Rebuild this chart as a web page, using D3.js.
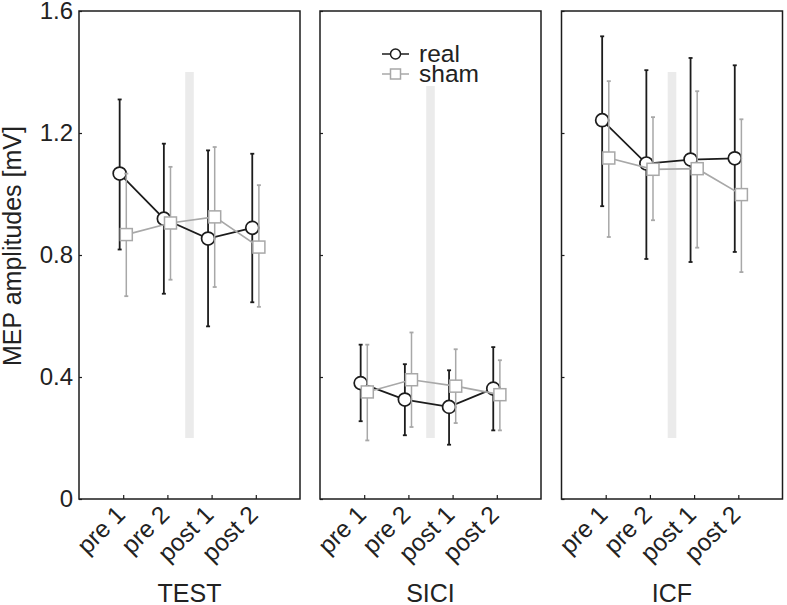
<!DOCTYPE html>
<html>
<head>
<meta charset="utf-8">
<script src="https://cdn.jsdelivr.net/npm/d3@7"></script>
<style>
  body { margin: 0; background: #fff; }
  text { font-family: "Liberation Sans", Arial, sans-serif; fill: #222; }
</style>
</head>
<body>
<svg id="chart" width="787" height="605"></svg>
<script>
// MEP amplitudes, real vs sham, three conditions

var conditions = ["TEST", "SICI", "ICF"];
var timepoints = ["pre 1", "pre 2", "post 1", "post 2"];

var realMean  = [[1.067, 0.919, 0.854, 0.889], [0.380, 0.326, 0.302, 0.362], [1.242, 1.100, 1.113, 1.117]];
var realUpper = [[1.310, 1.165, 1.143, 1.132], [0.506, 0.442, 0.422, 0.498], [1.517, 1.406, 1.446, 1.422]];
var realLower = [[0.818, 0.673, 0.566, 0.645], [0.255, 0.209, 0.178, 0.225], [0.960, 0.787, 0.777, 0.810]];

var shamMean  = [[0.867, 0.905, 0.925, 0.826], [0.351, 0.391, 0.370, 0.342], [1.118, 1.081, 1.083, 0.998]];
var shamUpper = [[1.067, 1.089, 1.154, 1.029], [0.506, 0.546, 0.491, 0.455], [1.370, 1.252, 1.337, 1.245]];
var shamLower = [[0.665, 0.719, 0.695, 0.630], [0.192, 0.236, 0.249, 0.225], [0.859, 0.914, 0.824, 0.744]];

var yTicks = [0, 0.4, 0.8, 1.2, 1.6];
var yTickLabels = ["0", "0.4", "0.8", "1.2", "1.6"];

// stimulation period drawn as a light band between pre 2 and post 1
var bandPos = 2.5;
var bandRange = [0.2, 1.4];

var black = "#1c1c1c";
var grey = "#a8a8a8";

var svg = d3.select("#chart");

var panelLeft = [79, 320, 561.5];
var panelW = 221;
var plotTop = 11, plotBottom = 499;

var y = d3.scaleLinear().domain([0, 1.6]).range([plotBottom, plotTop]);

function drawSeries(g, x, mean, upper, lower, offset, color, shape) {
  var pts = mean.map(function (m, i) {
    return { x: x(i + 1 + offset), m: m, hi: upper[i], lo: lower[i] };
  });

  // error bars
  var eb = g.append("g");
  pts.forEach(function (p) {
    eb.append("line")
      .attr("x1", p.x).attr("x2", p.x)
      .attr("y1", y(p.hi)).attr("y2", y(p.lo))
      .attr("stroke", color).attr("stroke-width", color == black ? 1.8 : 1.5);
    [p.hi, p.lo].forEach(function (v) {
      eb.append("line")
        .attr("x1", p.x - 2).attr("x2", p.x + 2)
        .attr("y1", y(v)).attr("y2", y(v))
        .attr("stroke", color).attr("stroke-width", 1.8);
    });
  });

  var line = d3.line().x(function (d) { return d.x; }).y(function (d) { return y(d.m); });
  g.append("path")
    .datum(pts)
    .attr("d", line)
    .attr("fill", "none")
    .attr("stroke", color)
    .attr("stroke-width", 1.7);

  if (shape == "circle") {
    g.selectAll(null).data(pts).enter().append("circle")
      .attr("cx", function (d) { return d.x; })
      .attr("cy", function (d) { return y(d.m); })
      .attr("r", 6.5)
      .attr("fill", "#fff")
      .attr("stroke", color)
      .attr("stroke-width", 1.7);
  } else {
    g.selectAll(null).data(pts).enter().append("rect")
      .attr("x", function (d) { return d.x - 6; })
      .attr("y", function (d) { return y(d.m) - 6; })
      .attr("width", 12).attr("height", 12)
      .attr("fill", "#fff")
      .attr("stroke", color)
      .attr("stroke-width", 1.5);
  }
}

conditions.forEach(function (cond, c) {
  var left = panelLeft[c];
  var x = d3.scaleLinear().domain([0, 5]).range([left, left + panelW]);
  var g = svg.append("g");

  // band
  g.append("rect")
    .attr("x", x(bandPos) - 4.3)
    .attr("width", 8.6)
    .attr("y", y(bandRange[1]))
    .attr("height", y(bandRange[0]) - y(bandRange[1]))
    .attr("fill", "#ebebeb");

  drawSeries(g, x, realMean[c], realUpper[c], realLower[c], -0.08, black, "circle");
  drawSeries(g, x, shamMean[c], shamUpper[c], shamLower[c], 0.07, grey, "square");

  // y ticks (inside)
  var yAxis = d3.axisLeft(y).tickValues(yTicks).tickSizeInner(-3).tickSizeOuter(0)
    .tickFormat(function (d, i) { return c == 0 ? yTickLabels[i] : ""; });
  var ya = g.append("g").attr("transform", "translate(" + left + ",0)").call(yAxis);
  ya.select(".domain").remove();
  ya.selectAll("line").attr("stroke", black).attr("stroke-width", 1.2);
  ya.selectAll("text")
    .attr("x", -6)
    .style("font-size", "24px")
    .style("font-family", "Liberation Sans, Arial, sans-serif")
    .attr("fill", "#222");

  // x ticks (inside) with rotated labels
  var xAxis = d3.axisBottom(x).tickValues([1, 2, 3, 4]).tickSizeInner(-4).tickSizeOuter(0)
    .tickFormat(function (d) { return timepoints[d - 1]; });
  var xa = g.append("g").attr("transform", "translate(0," + plotBottom + ")").call(xAxis);
  xa.select(".domain").remove();
  xa.selectAll("line").attr("stroke", black).attr("stroke-width", 1.2);
  xa.selectAll("text")
    .attr("y", 0).attr("dy", 0)
    .attr("transform", "translate(3,17) rotate(-45)")
    .attr("text-anchor", "end")
    .style("font-size", "24.5px")
    .style("font-family", "Liberation Sans, Arial, sans-serif")
    .attr("fill", "#222");

  // frame
  g.append("rect")
    .attr("x", left).attr("y", plotTop)
    .attr("width", panelW).attr("height", plotBottom - plotTop)
    .attr("fill", "none")
    .attr("stroke", black)
    .attr("stroke-width", 1.5);

  // condition label
  g.append("text")
    .attr("x", left + panelW / 2)
    .attr("y", 602)
    .attr("text-anchor", "middle")
    .style("font-size", "25px")
    .text(cond);
});

// y axis title
svg.append("text")
  .attr("transform", "translate(21,246) rotate(-90)")
  .attr("text-anchor", "middle")
  .style("font-size", "25px")
  .text("MEP amplitudes [mV]");

// legend
var lg = svg.append("g");
lg.append("rect").attr("x", 378).attr("y", 40).attr("width", 112).attr("height", 46).attr("fill", "#fff");
var legendItems = [
  { name: "real", color: black, shape: "circle", yy: 54 },
  { name: "sham", color: grey, shape: "square", yy: 74 }
];
legendItems.forEach(function (d) {
  lg.append("line").attr("x1", 382).attr("x2", 409).attr("y1", d.yy).attr("y2", d.yy)
    .attr("stroke", d.color).attr("stroke-width", 1.5);
  if (d.shape == "circle") {
    lg.append("circle").attr("cx", 395.5).attr("cy", d.yy).attr("r", 5)
      .attr("fill", "#fff").attr("stroke", d.color).attr("stroke-width", 1.5);
  } else {
    lg.append("rect").attr("x", 390.5).attr("y", d.yy - 5).attr("width", 10).attr("height", 10)
      .attr("fill", "#fff").attr("stroke", d.color).attr("stroke-width", 1.5);
  }
  lg.append("text").attr("x", 419).attr("y", d.yy + 7.5)
    .style("font-size", "24.5px").text(d.name);
});
</script>
</body>
</html>
